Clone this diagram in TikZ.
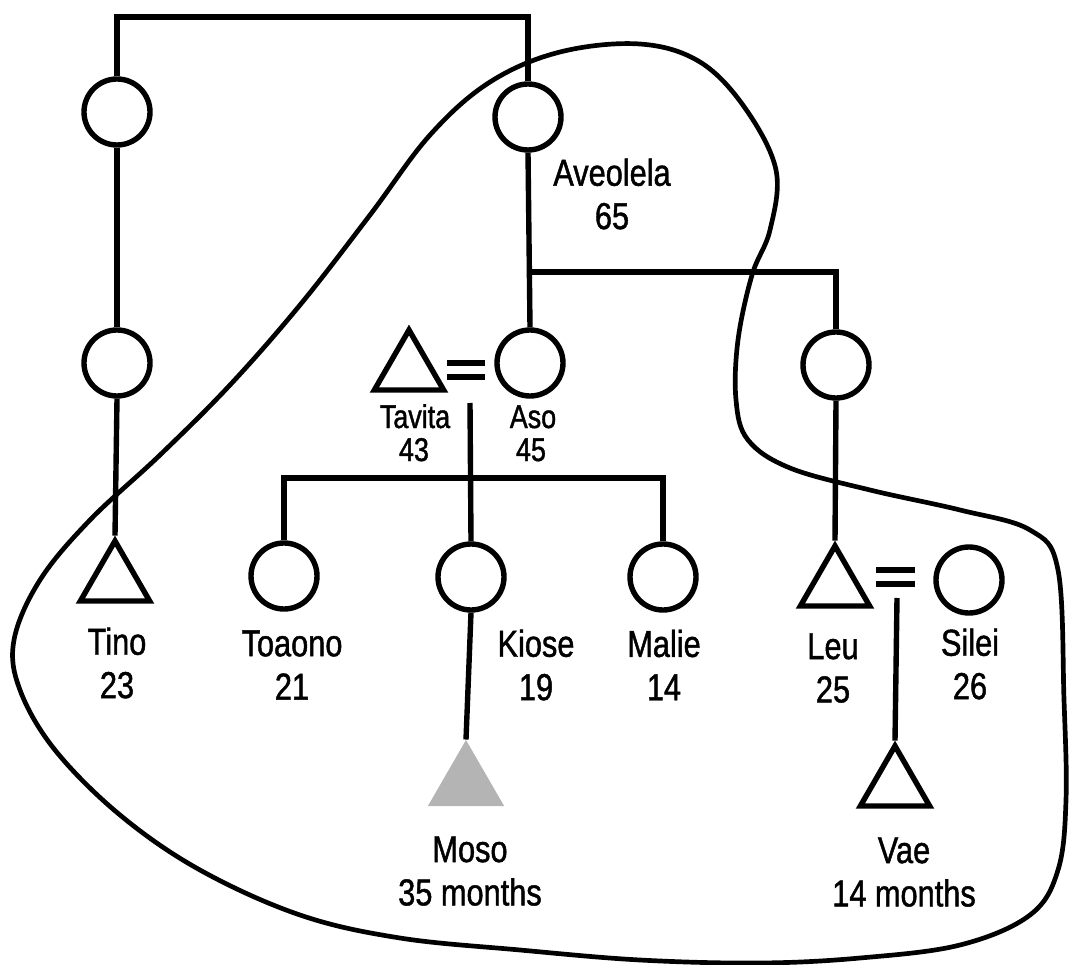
\documentclass[tikz,border=0pt]{standalone}
\usepackage{fontspec}
\setmainfont[FakeStretch=0.82,FakeBold=1.2]{Liberation Sans}
\usetikzlibrary{shapes.geometric}
\definecolor{mosogray}{HTML}{B4B4B4}
\begin{document}
\begin{tikzpicture}[x=0.03cm,y=-0.03cm,
  person/.style={circle,draw,line width=4.6pt,minimum size=1.98cm,inner sep=0pt},
  male/.style={regular polygon,regular polygon sides=3,draw,line width=4.6pt,minimum size=2.4cm,inner sep=0pt},
  baby/.style={regular polygon,regular polygon sides=3,fill=mosogray,minimum size=2.64cm,inner sep=0pt},
  lbl/.style={align=center,font=\fontsize{32}{37}\selectfont,inner sep=0pt},
  lbls/.style={anchor=base,font=\fontsize{28}{26}\selectfont,inner sep=0pt},
  link/.style={line width=4.6pt},
  boundary/.style={line width=4pt,line join=round}
]
\useasboundingbox (0,0) rectangle (1070,965);

% people
\node[person] (gm1) at (117,112) {};
\node[person] (ave) at (528,117) {};
\node[person] (m1) at (117,363) {};
\node[person] (aso) at (530,363) {};
\node[person] (lm) at (836,365) {};
\node[male] (tavita) at (409,370) {};
\node[male] (tino) at (115,581) {};
\node[person] (toaono) at (284,576) {};
\node[person] (kiose) at (471,577) {};
\node[person] (malie) at (663,577) {};
\node[male] (leu) at (835,586) {};
\node[person] (silei) at (969,580) {};
\node[baby] (moso) at (466,784) {};
\node[male] (vae) at (895,786) {};

% labels
\node[lbl] (lave) at (612,194) {Aveolela\\65};
\node[lbls] (ltav) at (415,428) {Tavita};
\node[lbls] (ltav2) at (414,461) {43};
\node[lbls] (laso) at (533,428) {Aso};
\node[lbls] (laso2) at (531,461) {45};
\node[lbl] (ltino) at (117,663) {Tino\\23};
\node[lbl] (ltoa) at (292,665) {Toaono\\21};
\node[lbl] (lkio) at (536,665) {Kiose\\19};
\node[lbl] (lmal) at (664,665) {Malie\\14};
\node[lbl] (lleu) at (833,668) {Leu\\25};
\node[lbl] (lsil) at (970,664) {Silei\\26};
\node[lbl] (lmoso) at (470,871) {Moso\\35 months};
\node[lbl] (lvae) at (904,872) {Vae\\14 months};

% helper coordinates
\coordinate (top) at (117,17);
\coordinate (br) at (528,272);
\coordinate (d1) at (470,403);
\coordinate (sib) at (470,478);
\coordinate (d2) at (897,598);
\coordinate (e1a) at (447,363); \coordinate (e1b) at (485,363);
\coordinate (e2a) at (447,377); \coordinate (e2b) at (485,377);
\coordinate (e3a) at (876,570); \coordinate (e3b) at (915,570);
\coordinate (e4a) at (876,584); \coordinate (e4b) at (915,584);

% connectors
\draw[link] (gm1.north) -- (top) -| (ave.north);
\draw[link] (gm1.south) -- (m1.north);
\draw[link] (m1.south) -- (tino.corner 1);
\draw[link] (ave.south) -- (aso.north);
\draw[link] (br) -| (lm.north);
\draw[link] (lm.south) -- (leu.corner 1);
\draw[link] (e1a) -- (e1b);
\draw[link] (e2a) -- (e2b);
\draw[link] (d1) -- (kiose.north);
\draw[link] (toaono.north) |- (sib) -| (malie.north);
\draw[link] (kiose.south) -- (moso.corner 1);
\draw[link] (e3a) -- (e3b);
\draw[link] (e4a) -- (e4b);
\draw[link] (d2) -- (vae.corner 1);

% household boundary
\draw[boundary] plot[smooth cycle, tension=0.6] coordinates {
  (640,44) (700,62) (745,108) (776,170) (770,230) (752,275) (738,340)
  (736,400) (748,440) (790,468) (870,490) (960,510) (1030,530) (1058,570)
  (1064,700) (1066,800) (1058,870) (1030,915) (960,945) (860,958) (760,963)
  (640,960) (520,950) (400,938) (300,915) (200,870) (120,815) (55,750)
  (20,690) (14,640) (40,580) (90,520) (160,455) (230,385) (300,305)
  (370,215) (430,135) (490,82) (560,52)};
\end{tikzpicture}
\end{document}
